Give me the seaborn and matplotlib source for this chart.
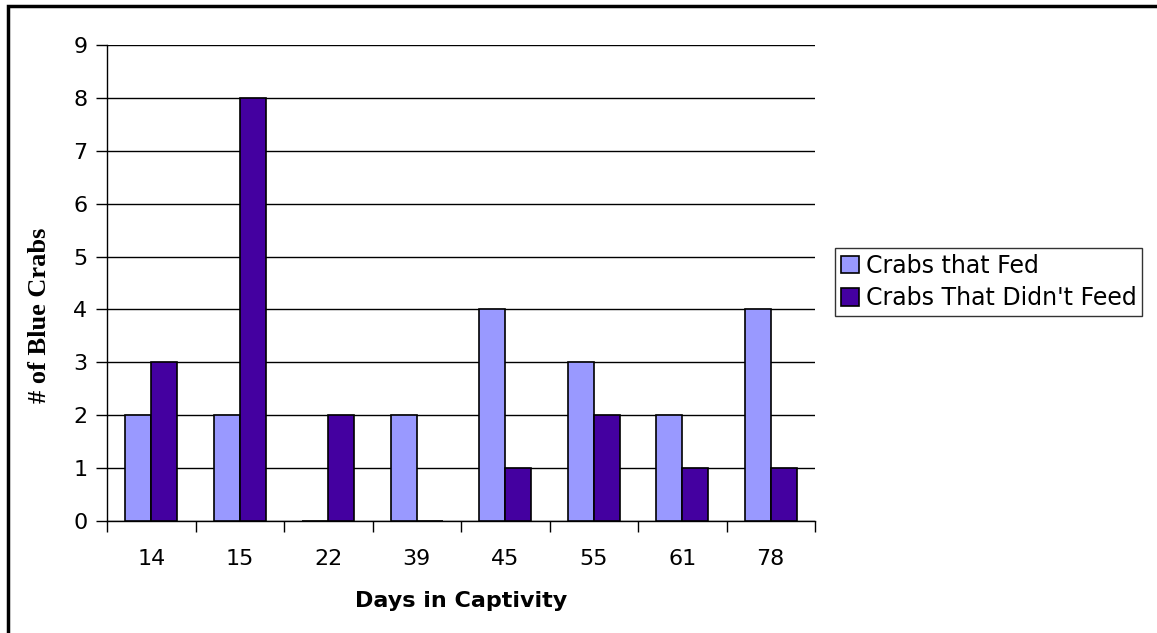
import pandas as pd
import matplotlib.pyplot as plt
import seaborn as sns
from matplotlib.patches import Rectangle

# Values
days = ['14', '15', '22', '39', '45', '55', '61', '78']
fed = [2, 2, 0, 2, 4, 3, 2, 4]
not_fed = [3, 8, 2, 0, 1, 2, 1, 1]
series_names = ['Crabs that Fed', "Crabs That Didn't Feed"]
colors = ['#9999FF', '#4400A0']

df = pd.DataFrame({
    'Days': days * 2,
    'Count': fed + not_fed,
    'Series': [series_names[0]] * len(days) + [series_names[1]] * len(days),
})

sns.set_style('white')
plt.rcParams['font.family'] = ['DejaVu Sans']
plt.rcParams['text.color'] = 'black'
plt.rcParams['xtick.color'] = 'black'
plt.rcParams['ytick.color'] = 'black'
plt.rcParams['axes.labelcolor'] = 'black'

fig = plt.figure(figsize=(11.57, 6.33), dpi=100)
ax = fig.add_axes([107 / 1157, 1 - 521 / 633, (815 - 107) / 1157, (521 - 45) / 633])

sns.barplot(data=df, x='Days', y='Count', hue='Series', order=days,
            hue_order=series_names, palette=colors, saturation=1,
            width=0.59, gap=0, edgecolor='black', linewidth=1.2, ax=ax,
            zorder=3)

ax.set_ylim(0, 9)
ax.set_xlim(-0.5, len(days) - 0.5)
ax.set_yticks(range(0, 10))
ax.yaxis.grid(True, color='black', linewidth=1)
ax.set_axisbelow(True)
for s in ['top', 'right']:
    ax.spines[s].set_visible(False)
for s in ['left', 'bottom']:
    ax.spines[s].set_color('black')
    ax.spines[s].set_linewidth(1)

ax.tick_params(axis='y', direction='out', length=8, width=1, color='black',
               labelsize=16, pad=6, left=True)
ax.tick_params(axis='x', which='major', length=0, labelsize=16, pad=20)
ax.set_xticks([i - 0.5 for i in range(len(days) + 1)], minor=True)
ax.tick_params(axis='x', which='minor', direction='out', length=8, width=1,
               color='black', bottom=True)

ax.set_xlabel('Days in Captivity', fontsize=16, fontweight='bold', labelpad=16)
ax.set_ylabel('# of Blue Crabs', fontsize=19, fontweight='bold',
              family='Liberation Serif')
ax.yaxis.set_label_coords((51 - 107) / 708, (521 - 315) / 476)

leg = ax.legend(loc='upper left', bbox_to_anchor=(835 / 1157, 1 - 248 / 633),
                bbox_transform=fig.transFigure, fontsize=17, frameon=True,
                fancybox=False, edgecolor='black', handlelength=0.75,
                handleheight=0.75, handletextpad=0.3, borderpad=0.25,
                labelspacing=0.35, borderaxespad=0)
leg.get_frame().set_linewidth(1)

# outer chart border (cut off on the right and bottom)
fig.patches.append(Rectangle((8 / 1157, -0.05), 1.2, 1 - 6 / 633 + 0.05,
                             transform=fig.transFigure, fill=False,
                             edgecolor='black', linewidth=2.5))

fig.savefig('out.png', dpi=100)
